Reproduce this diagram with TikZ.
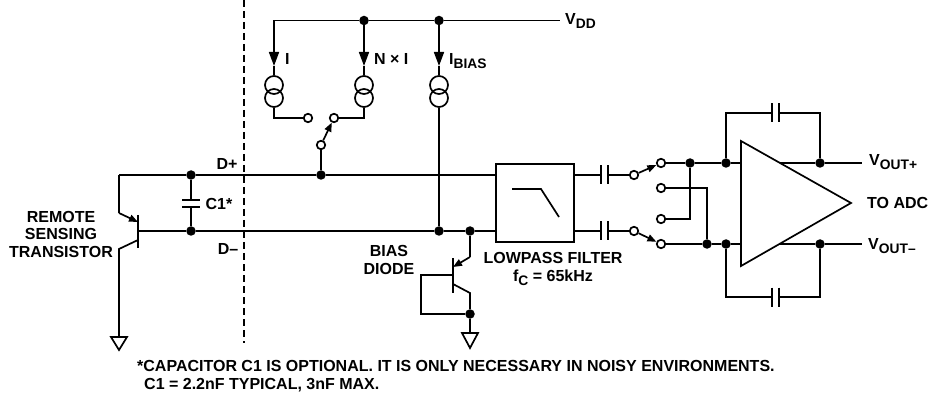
\documentclass[tikz,border=0pt]{standalone}
\usepackage{fontspec}
\setmainfont{Liberation Sans}
\usetikzlibrary{arrows.meta,calc}
\newcommand{\lowtxt}[1]{\raisebox{-4pt}{\fontsize{13.8}{14}\selectfont #1}}
\tikzset{
  wire/.style={line width=1.7pt},
  feed/.style={wire,-{Triangle[length=14pt,width=10pt]}},
  poletip/.style={wire,-{Triangle[length=9pt,width=7pt]}},
  soldered/.style={circle,fill=black,inner sep=0pt,minimum size=9.5pt},
  contact/.style={circle,draw,fill=white,wire,inner sep=0pt,minimum size=8.5pt},
  ring/.style={circle,draw,wire,inner sep=0pt,minimum size=18pt},
  lbl/.style={font=\bfseries\fontsize{16}{17.5}\selectfont,inner sep=0pt,align=center},
  smalllbl/.style={font=\bfseries\fontsize{16}{18}\selectfont,inner sep=0pt,align=left}
}
\begin{document}
\begin{tikzpicture}[x=1pt,y=-1pt]
  \useasboundingbox (0,0) rectangle (929,398);
  % supply rail and current sources
  \coordinate (railL) at (274,20.5);
  \node[soldered] (railN) at (364,20.5) {};
  \node[soldered] (railB) at (439,20.5) {};
  \coordinate (vdd) at (560,20.5);
  \draw[wire] (railL) -- (railN) -- (railB) -- (vdd);
  \coordinate (tipI) at (274,66);
  \coordinate (tipN) at (364,66);
  \coordinate (tipB) at (439,66);
  \node[ring] (srcIa) at (274,85) {};
  \node[ring] (srcIb) at (274,98) {};
  \node[ring] (srcNa) at (364,85) {};
  \node[ring] (srcNb) at (364,98) {};
  \node[ring] (srcBa) at (439,85) {};
  \node[ring] (srcBb) at (439,98) {};
  \draw[feed] (railL) -- (tipI);
  \draw[feed] (railN) -- (tipN);
  \draw[feed] (railB) -- (tipB);
  \draw[wire] (tipI) -- (srcIa.north);
  \draw[wire] (tipN) -- (srcNa.north);
  \draw[wire] (tipB) -- (srcBa.north);
  % range switch
  \node[contact] (swI) at (308,118) {};
  \node[contact] (swN) at (334,118) {};
  \node[contact] (swP) at (321,145) {};
  \draw[wire] (srcIb.south) |- (swI);
  \draw[wire] (srcNb.south) |- (swN);
  \draw[poletip] (swP) -- (swN);
  % D+ and D- lines
  \coordinate (tee) at (119,175);
  \node[soldered] (capT) at (191,175) {};
  \node[soldered] (swDot) at (321,175) {};
  \node[soldered] (capB) at (191,231) {};
  \node[soldered] (biasDot) at (439,231) {};
  \node[soldered] (diodeDot) at (470,231) {};
  \draw[wire] (swP) -- (swDot);
  \draw[wire] (srcBb.south) -- (biasDot);
  % filter
  \node[draw,wire,minimum width=78pt,minimum height=78pt,inner sep=0pt] (filter) at (535,203) {};
  \coordinate (knA) at (512,189);
  \coordinate (knB) at (541,189);
  \coordinate (knC) at (559,217);
  \draw[wire] (knA) -- (knB) -- (knC);
  \coordinate (filtT) at (filter.west |- tee);
  \coordinate (filtB) at (filter.west |- capB);
  \draw[wire] (tee) -- (capT) -- (swDot) -- (filtT);
  % remote transistor
  \coordinate (barT) at (138,215);
  \coordinate (barB) at (138,248);
  \coordinate (baseQ) at (138,231);
  \coordinate (emitQ) at (119,213);
  \coordinate (emitTip) at (138,222);
  \coordinate (collQ) at (138,240);
  \coordinate (collK) at (119,249);
  \coordinate (gndQ) at (119,337);
  \draw[wire] (barT) -- (barB);
  \draw[wire] (baseQ) -- (capB) -- (biasDot) -- (diodeDot) -- (filtB);
  \draw[wire] (tee) -- (emitQ);
  \draw[poletip] (emitQ) -- (emitTip);
  \draw[wire] (collQ) -- (collK) -- (gndQ);
  \draw[wire,fill=white] (gndQ) -- ++(-8,0) -- ++(8,13) -- ++(8,-13) -- cycle;
  % C1
  \coordinate (plateA) at (191,200);
  \coordinate (plateB) at (191,207);
  \draw[wire] (capT) -- (plateA);
  \draw[wire] (plateB) -- (capB);
  \draw[wire] ($(plateA)+(-9,0)$) -- ($(plateA)+(9,0)$);
  \draw[wire] ($(plateB)+(-9,0)$) -- ($(plateB)+(9,0)$);
  % bias diode
  \coordinate (dEmit) at (470,257);
  \coordinate (dTip) at (453,267);
  \coordinate (dBarT) at (453,258);
  \coordinate (dBarB) at (453,293);
  \coordinate (dBase) at (453,275);
  \coordinate (dColl) at (453,284);
  \coordinate (dCollK) at (470,293);
  \node[soldered] (dDot) at (470,314) {};
  \coordinate (dLoop) at (421,275);
  \coordinate (gndD) at (470,333);
  \draw[wire] (dBarT) -- (dBarB);
  \draw[wire] (diodeDot) -- (dEmit);
  \draw[poletip] (dEmit) -- (dTip);
  \draw[wire] (dColl) -- (dCollK) -- (dDot) -- (gndD);
  \draw[wire] (dBase) -- (dLoop) |- (dDot);
  \draw[wire,fill=white] (gndD) -- ++(-8,0) -- ++(8,15) -- ++(8,-15) -- cycle;
  % coupling caps and input switch
  \coordinate (cTa) at (601,175);
  \coordinate (cTb) at (608,175);
  \coordinate (cBa) at (601,231);
  \coordinate (cBb) at (608,231);
  \node[contact] (poleT) at (634,175) {};
  \node[contact] (poleB) at (634,231) {};
  \node[contact] (inA) at (661,163) {};
  \node[contact] (inB) at (661,188) {};
  \node[contact] (inC) at (661,219) {};
  \node[contact] (inD) at (661,244) {};
  \draw[wire] (filter.east |- cTa) -- (cTa);
  \draw[wire] (filter.east |- cBa) -- (cBa);
  \draw[wire] (cTb) -- (poleT);
  \draw[wire] (cBb) -- (poleB);
  \draw[wire] ($(cTa)+(0,-9.5)$) -- ($(cTa)+(0,9.5)$);
  \draw[wire] ($(cTb)+(0,-9.5)$) -- ($(cTb)+(0,9.5)$);
  \draw[wire] ($(cBa)+(0,-9.5)$) -- ($(cBa)+(0,9.5)$);
  \draw[wire] ($(cBb)+(0,-9.5)$) -- ($(cBb)+(0,9.5)$);
  \draw[poletip] (poleT) -- (inA);
  \draw[poletip] (poleB) -- (inD);
  % amplifier
  \coordinate (ampA) at (741,141);
  \coordinate (ampB) at (741,266);
  \coordinate (ampC) at (851,203);
  \coordinate (ampOutT) at (780,163);
  \coordinate (ampOutB) at (780,244);
  \coordinate (ampInT) at (741,163);
  \coordinate (ampInB) at (741,244);
  \node[soldered] (crossT) at (690,163) {};
  \node[soldered] (fbInT) at (726,163) {};
  \node[soldered] (fbOutT) at (820,163) {};
  \node[soldered] (crossB) at (707,244) {};
  \node[soldered] (fbInB) at (726,244) {};
  \node[soldered] (fbOutB) at (820,244) {};
  \coordinate (outT) at (862,163);
  \coordinate (outB) at (862,244);
  \draw[wire] (inA) -- (crossT) -- (fbInT) -- (ampInT);
  \draw[wire] (inD) -- (crossB) -- (fbInB) -- (ampInB);
  \draw[wire] (crossT) |- (inC);
  \draw[wire] (crossB) |- (inB);
  \draw[wire] (ampA) -- (ampB) -- (ampC) -- cycle;
  \draw[wire] (ampOutT) -- (fbOutT) -- (outT);
  \draw[wire] (ampOutB) -- (fbOutB) -- (outB);
  % feedback caps
  \coordinate (fTa) at (772,113);
  \coordinate (fTb) at (779,113);
  \coordinate (fBa) at (772,297);
  \coordinate (fBb) at (779,297);
  \draw[wire] (fbInT) |- (fTa);
  \draw[wire] (fbOutT) |- (fTb);
  \draw[wire] (fbInB) |- (fBa);
  \draw[wire] (fbOutB) |- (fBb);
  \draw[wire] ($(fTa)+(0,-9.5)$) -- ($(fTa)+(0,9.5)$);
  \draw[wire] ($(fTb)+(0,-9.5)$) -- ($(fTb)+(0,9.5)$);
  \draw[wire] ($(fBa)+(0,-9.5)$) -- ($(fBa)+(0,9.5)$);
  \draw[wire] ($(fBb)+(0,-9.5)$) -- ($(fBb)+(0,9.5)$);
  % boundary
  \coordinate (bndT) at (243.5,0);
  \coordinate (bndB) at (243.5,343);
  \draw[line width=2pt,dash pattern=on 7pt off 4pt] (bndT) -- (bndB);
  % labels
  \node[lbl,anchor=west] (lblI) at (285,59) {I};
  \node[lbl,anchor=west] (lblN) at (374,59) {N × I};
  \node[lbl,anchor=base west] (lblB) at (449,65) {I\lowtxt{BIAS}};
  \node[lbl,anchor=base west] (lblV) at (565,25) {V\lowtxt{DD}};
  \node[lbl] (lblDp) at (227,164) {D+};
  \node[lbl] (lblDm) at (228,249) {D–};
  \node[lbl] (lblC) at (219,204) {C1*};
  \node[lbl] (lblQ) at (61,234) {REMOTE\\SENSING\\TRANSISTOR};
  \node[lbl] (lblD) at (389,260) {BIAS\\DIODE};
  \node[lbl] (lblF) at (553,269) {LOWPASS FILTER\\f\lowtxt{C} = 65kHz};
  \node[lbl,anchor=base west] (lblOp) at (869,166) {V\lowtxt{OUT+}};
  \node[lbl,anchor=base west] (lblOm) at (868,249) {V\lowtxt{OUT–}};
  \node[lbl,anchor=west] (lblA) at (867,203) {TO ADC};
  \node[smalllbl,anchor=north west] (lblNote) at (137,360) {*CAPACITOR C1 IS OPTIONAL. IT IS ONLY NECESSARY IN NOISY ENVIRONMENTS.\\\hspace*{7pt}C1 = 2.2nF TYPICAL, 3nF MAX.};
\end{tikzpicture}
\end{document}
